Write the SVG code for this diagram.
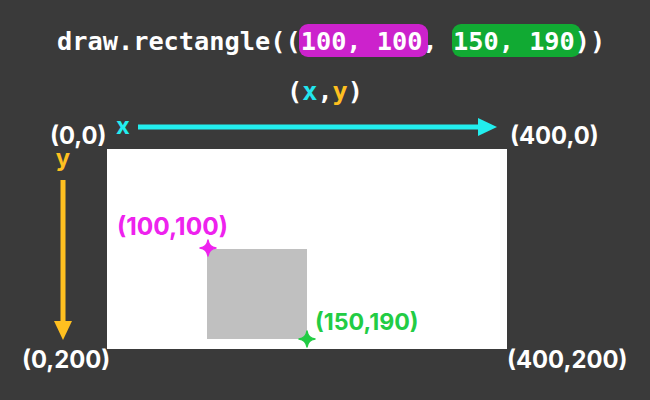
<svg xmlns="http://www.w3.org/2000/svg" width="650" height="400" viewBox="0 0 650 400">
<style>
.mono{font-family:"DejaVu Sans Mono","Liberation Mono",monospace;font-weight:bold;font-size:25.3px;fill:#ffffff}
.lbl{font-family:Inter,"DejaVu Sans",sans-serif;font-weight:bold;font-size:23.8px;fill:#ffffff}
</style>
<rect x="0" y="0" width="650" height="400" fill="#3a3a3a"/>
<g id="title">
<rect x="299" y="24" width="129" height="33" rx="9" fill="#cc22cc"/>
<rect x="452" y="24" width="129" height="33" rx="9" fill="#11aa33"/>
<text class="mono" x="57" y="50">draw.rectangle((100, 100, 150, 190))</text>
</g>
<g id="xy-label">
<text class="mono" x="325" y="100" text-anchor="middle">(<tspan fill="#22e6ee">x</tspan>,<tspan fill="#ffc020">y</tspan>)</text>
</g>
<g id="canvas">
<rect x="107" y="149" width="400" height="200" fill="#ffffff"/>
</g>
<g id="rectangle">
<rect x="207" y="249" width="100" height="90" fill="#c0c0c0"/>
</g>
<g id="connectors">
<line x1="138" y1="127" x2="480" y2="127" stroke="#22eeee" stroke-width="5"/>
<polygon points="478,118 497,127 478,136" fill="#22eeee"/>
<line x1="63" y1="180" x2="63" y2="323" stroke="#ffc020" stroke-width="5"/>
<polygon points="54,321 72,321 63,340" fill="#ffc020"/>
</g>
<g id="axis-labels">
<text class="lbl" x="123" y="134" text-anchor="middle" style="fill:#22eeee">x</text>
<text class="lbl" x="63" y="166" text-anchor="middle" style="fill:#ffc020">y</text>
</g>
<g id="corner-labels">
<text class="lbl" x="50" y="144">(0,0)</text>
<text class="lbl" x="510" y="144">(400,0)</text>
<text class="lbl" x="22" y="368">(0,200)</text>
<text class="lbl" x="507" y="368">(400,200)</text>
</g>
<g id="point-start">
<path d="M208,240 Q209,247 216,248 Q209,249 208,256 Q207,249 200,248 Q207,247 208,240 Z" fill="#ee22ee" stroke="#ee22ee" stroke-width="1.5" stroke-linejoin="round"/>
<text class="lbl" x="117" y="235" style="fill:#ee22ee;font-size:24.5px">(100,100)</text>
</g>
<g id="point-end">
<path d="M307,331 Q308,338 315,339 Q308,340 307,347 Q306,340 299,339 Q306,338 307,331 Z" fill="#22cc44" stroke="#22cc44" stroke-width="1.5" stroke-linejoin="round"/>
<text class="lbl" x="315" y="330" style="fill:#22cc44;font-size:23.2px">(150,190)</text>
</g>
</svg>
